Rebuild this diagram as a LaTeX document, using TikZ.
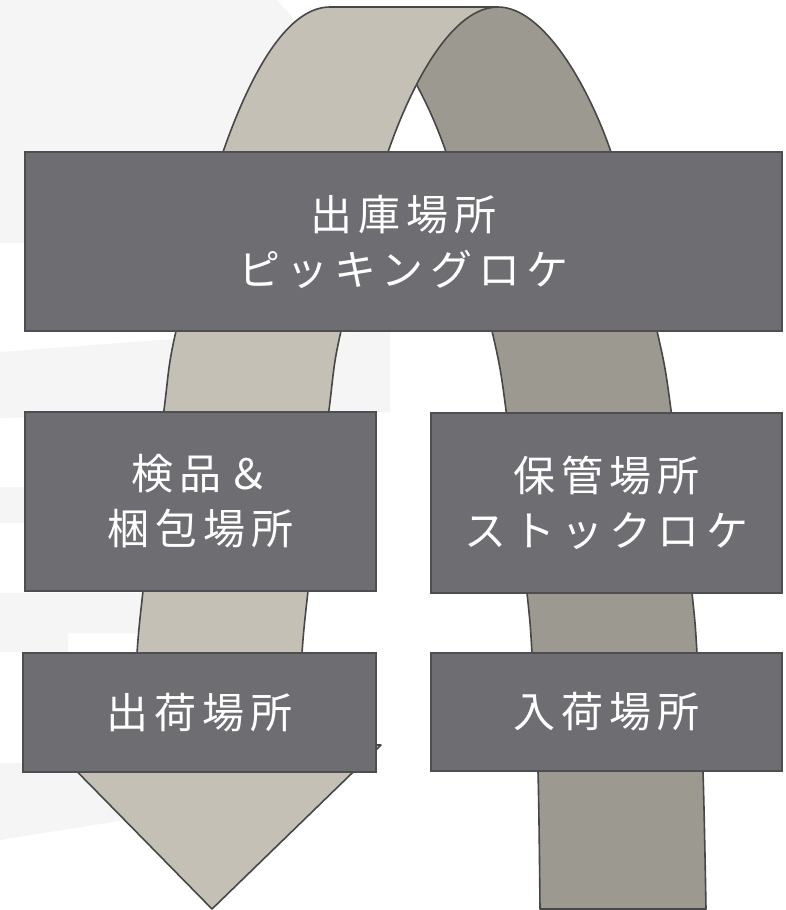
\documentclass[tikz,border=0pt]{standalone}
\usepackage{fontspec}
\newfontfamily\jp[LetterSpace=15]{Noto Sans CJK JP}
\definecolor{boxfill}{HTML}{6E6D72}
\definecolor{boxline}{HTML}{4E4E51}
\definecolor{ribA}{HTML}{C4C0B5}
\definecolor{ribB}{HTML}{9C9990}
\definecolor{ribline}{HTML}{474747}
\definecolor{wm}{HTML}{F5F5F5}
\begin{document}
\begin{tikzpicture}[x=1pt,y=-1pt,
  stage/.style={draw=boxline, line width=1.6pt, fill=boxfill, text=white,
    font=\jp\fontsize{42}{55}\selectfont, align=center, inner sep=0pt},
  ribbon/.style={draw=ribline, line width=1.6pt, line join=round},
  watermark/.style={fill=wm}]
\useasboundingbox (0,0) rectangle (785,910);
\fill[white] (0,0) rectangle (785,910);
% faint background watermark
\path[watermark] (0,0) -- (277,0) -- (330,60) -- (385,152) -- (385,243) -- (0,243) -- cycle;
\path[watermark] (0,352) -- (160,340) -- (390,331) -- (390,412) -- (0,418) -- cycle;
\path[watermark] (0,487) -- (60,487) -- (60,523) -- (0,523) -- cycle;
\path[watermark] (0,593) -- (150,593) -- (150,633) -- (68,633) -- (68,652) -- (0,652) -- cycle;
\path[watermark] (0,763) -- (90,763) -- (125,820) -- (0,840) -- cycle;
% dark ribbon (down on the right)
\path[ribbon, fill=ribB] (498,7) .. controls (543,7) and (588,85) .. (611,152)
  -- plot[smooth] coordinates {(611,152) (657,331) (671,410) (692,593) (697,653) (703,772) (706,909)}
  -- (540,909)
  -- plot[smooth] coordinates {(540,909) (538,772) (532,653) (527,593) (506,410) (492,331) (446,152)}
  .. controls (423,85) and (378,7) .. (333,7) -- cycle;
% light ribbon (up on the left, arrow down)
\path[ribbon, fill=ribA] (330,7) -- (498,7) .. controls (453,7) and (413,80) .. (388,152)
  -- plot[smooth] coordinates {(388,152) (341,331) (329,410) (308,591) (302,653) (297,745)}
  -- (381,745) -- (212,909) -- (51,745) -- (132,745)
  -- plot[smooth] coordinates {(132,745) (137,653) (143,591) (164,410) (176,331) (223,152)}
  .. controls (248,80) and (285,7) .. (330,7) -- cycle;
% boxes
\node[stage, minimum width=757pt, minimum height=179pt] (shukko) at (403.5,241.5) {出庫場所\\ピッキングロケ};
\node[stage, minimum width=351pt, minimum height=179pt] (kenpin) at (200.5,501.5) {検品＆\\梱包場所};
\node[stage, minimum width=351pt, minimum height=180pt] (hokan) at (606.5,503) {保管場所\\ストックロケ};
\node[stage, minimum width=353pt, minimum height=119pt] (shukka) at (199.5,712.5) {出荷場所};
\node[stage, minimum width=351pt, minimum height=118pt] (nyuka) at (606.5,712) {入荷場所};
\end{tikzpicture}
\end{document}
